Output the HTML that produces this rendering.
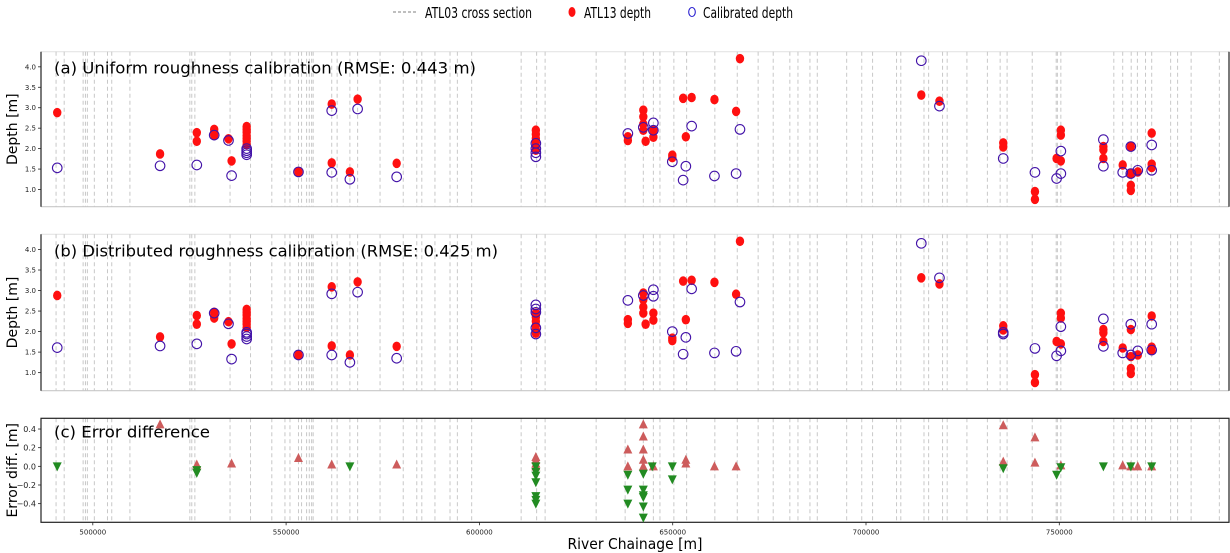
<!DOCTYPE html>
<html><head><meta charset="utf-8">
<style>
html,body{margin:0;padding:0;background:#fff;}
svg{display:block;font-family:"DejaVu Sans","Liberation Sans",sans-serif;}
</style></head>
<body>
<svg id="chart" width="1230" height="553" viewBox="0 0 1230 553" xmlns="http://www.w3.org/2000/svg">
  <g>
    <line x1="393" y1="12" x2="416" y2="12" stroke="#999" stroke-width="1.2" stroke-dasharray="3,2"/>
    <text x="425" y="18" font-size="15" textLength="107" lengthAdjust="spacingAndGlyphs">ATL03 cross section</text>
    <ellipse cx="572" cy="12" rx="3.5" ry="5" fill="#ff1010"/>
    <text x="584" y="18" font-size="15" textLength="67" lengthAdjust="spacingAndGlyphs">ATL13 depth</text>
    <ellipse cx="692" cy="12" rx="3.3" ry="4.5" fill="none" stroke="#2a20d0" stroke-width="1.1"/>
    <text x="703" y="18" font-size="15" textLength="90" lengthAdjust="spacingAndGlyphs">Calibrated depth</text>
  </g>
  <g id="plots"></g>
</svg>
<script>
// ---- data (chainage in km, depth in m) ----
const sectionKm = [490.5,492.6,497.5,498.1,498.6,500.4,503.8,504.9,509.6,525.1,525.6,526.4,535.5,540.8,546.3,549.7,551.0,553.2,554.0,555.3,556.0,556.6,557.0,561.8,563.2,566.5,568.5,574.3,580.3,583.8,585.1,588.5,592.4,594.3,598.0,610.8,614.8,617.0,630.2,637.7,642.4,645.0,646.7,650.3,653.6,660.9,666.7,672.1,676.0,680.3,682.4,685.5,687.4,695.0,698.9,701.7,707.9,709.0,715.0,716.2,719.8,721.0,726.1,731.4,734.7,736.5,743.0,749.2,749.5,750.4,764.1,766.4,768.6,770.2,772.3,773.9,778.8,780.6,784.1,791.4];

const atlKm    = [490.8,517.4,526.9,526.9,531.4,531.4,531.4,535.1,535.9,539.8,539.8,539.8,539.8,539.8,539.8,539.8,553.2,561.8,561.8,566.5,568.5,578.6,614.6,614.6,614.6,614.6,614.6,614.6,638.4,638.4,642.4,642.4,642.4,642.4,643.0,645.0,645.0,649.9,649.9,652.7,653.4,654.9,660.8,666.4,667.4,714.3,719.0,735.5,735.5,743.7,743.7,749.3,750.4,750.4,750.4,761.4,761.4,761.4,766.4,768.5,768.5,768.5,768.5,770.3,773.9,773.9,773.9];
const atlDepth = [2.88,1.87,2.39,2.18,2.47,2.40,2.33,2.24,1.70,2.10,2.18,2.25,2.32,2.40,2.47,2.54,1.43,3.09,1.65,1.43,3.21,1.64,1.96,2.05,2.15,2.25,2.35,2.45,2.29,2.20,2.94,2.78,2.60,2.45,2.18,2.45,2.28,1.84,1.78,3.23,2.29,3.25,3.20,2.91,4.20,3.31,3.16,2.14,2.04,0.95,0.76,1.76,2.45,2.33,1.70,2.05,1.97,1.76,1.60,2.05,1.39,1.10,0.98,1.43,2.38,1.62,1.54];

const calAKm    = [490.8,517.4,526.9,531.4,535.1,535.9,539.8,539.8,539.8,539.8,553.2,561.8,561.8,566.5,568.5,578.6,614.6,614.6,614.6,614.6,638.4,642.4,645.0,645.0,649.9,652.7,653.4,654.9,660.8,666.4,667.4,714.3,719.0,735.5,743.7,749.3,750.4,750.4,761.4,761.4,766.4,768.5,768.5,770.3,773.9,773.9];
const calADepth = [1.53,1.58,1.60,2.33,2.20,1.34,1.85,1.90,1.95,2.00,1.43,2.93,1.42,1.25,2.97,1.31,2.13,2.00,1.90,1.80,2.37,2.52,2.63,2.45,1.68,1.23,1.57,2.55,1.33,1.39,2.47,4.15,3.04,1.76,1.42,1.27,1.94,1.39,2.22,1.57,1.42,2.05,1.39,1.47,2.09,1.47];

const calBKm    = [490.8,517.4,526.9,531.4,535.1,535.9,539.8,539.8,539.8,539.8,553.2,561.8,561.8,566.5,568.5,578.6,614.6,614.6,614.6,614.6,614.6,638.4,642.4,645.0,645.0,649.9,652.7,653.4,654.9,660.8,666.4,667.4,714.3,719.0,735.5,735.5,743.7,749.3,750.4,750.4,761.4,761.4,766.4,768.5,768.5,770.3,773.9,773.9];
const calBDepth = [1.61,1.65,1.70,2.45,2.19,1.33,1.82,1.88,1.94,1.98,1.43,2.92,1.43,1.25,2.96,1.35,2.65,2.55,2.47,2.09,1.94,2.76,2.88,3.02,2.86,2.00,1.45,1.86,3.04,1.48,1.52,2.72,4.15,3.31,1.98,1.94,1.59,1.41,2.12,1.53,2.31,1.64,1.48,2.18,1.43,1.53,2.18,1.55];

const errUpKm  = [517.4,526.9,535.9,553.2,561.8,578.6,614.6,614.6,614.6,614.6,638.4,638.4,642.4,642.4,642.4,642.4,642.4,645.0,653.4,653.4,660.8,666.4,735.5,735.5,743.7,743.7,750.4,766.4,768.5,770.3,773.9];
const errUpVal = [0.45,0.02,0.03,0.09,0.02,0.02,0.10,0.07,0.03,0.00,0.18,0.00,0.45,0.32,0.18,0.07,0.00,0.00,0.07,0.03,0.00,0.00,0.44,0.05,0.31,0.04,0.01,0.01,0.00,0.00,0.00];
const errDnKm  = [490.8,526.9,526.9,566.5,614.6,614.6,614.6,614.6,614.6,614.6,614.6,638.4,638.4,638.4,642.4,642.4,642.4,642.4,642.4,642.4,644.7,649.9,649.9,735.5,749.3,750.4,761.4,768.5,773.9];
const errDnVal = [0.00,-0.04,-0.07,0.00,0.00,-0.06,-0.10,-0.17,-0.32,-0.36,-0.40,-0.09,-0.25,-0.40,-0.08,-0.25,-0.31,-0.33,-0.43,-0.55,0.00,0.00,-0.14,-0.02,-0.09,-0.01,0.00,0.00,0.00];

const xTicks = [500000,550000,600000,650000,700000,750000];
const depthTicks = [1.0,1.5,2.0,2.5,3.0,3.5,4.0];
const errTicks = [-0.4,-0.2,0.0,0.2,0.4];

// ---- scales ----
const X0 = 41, X1 = 1229;
function xs(km){ return 92.8 + (km - 500) * 3.866; }
function makeY(top, bottom, vmax, vmin){ return v => top + (vmax - v) / (vmax - vmin) * (bottom - top); }

const NS = "http://www.w3.org/2000/svg";
const root = document.getElementById('plots');
function mk(tag, attrs, parent){
  const e = document.createElementNS(NS, tag);
  for (const k in attrs) e.setAttribute(k, attrs[k]);
  (parent || root).appendChild(e);
  return e;
}

const panels = [
  {id:'a', top:51.7, bottom:206.7, vmax:4.37, vmin:0.58, title:'(a) Uniform roughness calibration (RMSE: 0.443 m)', calKm:calAKm, calDepth:calADepth},
  {id:'b', top:234.3, bottom:390.7, vmax:4.37, vmin:0.56, title:'(b) Distributed roughness calibration (RMSE: 0.425 m)', calKm:calBKm, calDepth:calBDepth}
];

function drawSections(g, top, bottom){
  sectionKm.forEach(km => {
    const l = mk('line', {x1:xs(km), x2:xs(km), y1:top, y2:bottom, stroke:'#c8c8c8', 'stroke-width':1, 'stroke-dasharray':'4,3'}, g);
    
    
  });
}

panels.forEach(p => {
  const g = mk('g', {});
  
  
  const ys = makeY(p.top, p.bottom, p.vmax, p.vmin);
  mk('line', {x1:X0, x2:X1, y1:p.top, y2:p.top, stroke:'#e4e4e4', 'stroke-width':1.2}, g);
  mk('line', {x1:X0, x2:X1, y1:p.bottom, y2:p.bottom, stroke:'#c8c8c8', 'stroke-width':1.2}, g);
  drawSections(g, p.top, p.bottom);
  const la = mk('line', {x1:X0, x2:X0, y1:p.top, y2:p.bottom, stroke:'#222', 'stroke-width':1.2}, g);
  
  
  mk('line', {x1:X1, x2:X1, y1:p.top, y2:p.bottom, stroke:'#222', 'stroke-width':1.2}, g);
  depthTicks.forEach(t => {
    const y = ys(t);
    mk('line', {x1:X0-3, x2:X0, y1:y, y2:y, stroke:'#222', 'stroke-width':0.8}, g);
    const tx = mk('text', {x:X0-5, y:y+2.5, 'font-size':7, 'text-anchor':'end', fill:'#222'}, g);
    tx.textContent = t.toFixed(1);
    
    
  });
  const yl = mk('text', {x:0, y:0, 'font-size':14, 'text-anchor':'middle', transform:'translate(17,' + ((p.top+p.bottom)/2) + ') rotate(-90)'}, g);
  yl.textContent = 'Depth [m]';
  
  
  const tt = mk('text', {x:54, y:p.top+22, 'font-size':16, textLength: p.id==='a'?422:444, lengthAdjust:'spacingAndGlyphs'}, g);
  tt.textContent = p.title;
  
  
  atlKm.forEach((km, i) => {
    const c = mk('ellipse', {cx:xs(km), cy:ys(atlDepth[i]), rx:4.2, ry:4.8, fill:'#ff1010'}, g);
    
    
  });
  p.calKm.forEach((km, i) => {
    const c = mk('circle', {cx:xs(km), cy:ys(p.calDepth[i]), r:4.8, fill:'none', stroke:'#4212a8', 'stroke-width':1.1}, g);
    
    
  });
});

// ---- panel c ----
(function(){
  const top = 418.3, bottom = 522.3;
  const ys = makeY(top, bottom, 0.515, -0.60);
  const g = mk('g', {});
  
  
  drawSections(g, top, bottom);
  const fr = mk('rect', {x:X0, y:top, width:X1-X0, height:bottom-top, fill:'none', stroke:'#222', 'stroke-width':1.2}, g);
  
  
  errTicks.forEach(t => {
    const y = ys(t);
    mk('line', {x1:X0-3, x2:X0, y1:y, y2:y, stroke:'#222', 'stroke-width':0.8}, g);
    const tx = mk('text', {x:X0-5, y:y+3, 'font-size':8, 'text-anchor':'end', fill:'#222'}, g);
    tx.textContent = (t < 0 ? '\u2212' + Math.abs(t).toFixed(1) : t.toFixed(1));
    
    
  });
  xTicks.forEach(v => {
    const x = xs(v / 1000);
    mk('line', {x1:x, x2:x, y1:bottom, y2:bottom+3, stroke:'#222', 'stroke-width':0.8}, g);
    const tx = mk('text', {x:x, y:bottom+12, 'font-size':7, 'text-anchor':'middle', fill:'#222'}, g);
    tx.textContent = String(v);
    
    
  });
  const yl = mk('text', {x:0, y:0, 'font-size':14, 'text-anchor':'middle', transform:'translate(17,' + ((top+bottom)/2) + ') rotate(-90)'}, g);
  yl.textContent = 'Error diff. [m]';
  
  
  const xl = mk('text', {x:635, y:549, 'font-size':15, 'text-anchor':'middle', textLength:135, lengthAdjust:'spacingAndGlyphs'}, g);
  xl.textContent = 'River Chainage [m]';
  
  
  const tt = mk('text', {x:54, y:top+19, 'font-size':16, textLength:156, lengthAdjust:'spacingAndGlyphs'}, g);
  tt.textContent = '(c) Error difference';
  
  
  errUpKm.forEach((km, i) => {
    const x = xs(km), y = ys(errUpVal[i]);
    const t = mk('polygon', {points:(x-4.5)+','+(y+4)+' '+(x+4.5)+','+(y+4)+' '+x+','+(y-5), fill:'#cd5c5c'}, g);
    
    
  });
  errDnKm.forEach((km, i) => {
    const x = xs(km), y = ys(errDnVal[i]);
    const t = mk('polygon', {points:(x-4.5)+','+(y-4)+' '+(x+4.5)+','+(y-4)+' '+x+','+(y+5), fill:'#228b22'}, g);
    
    
  });
})();
</script>
</body></html>
